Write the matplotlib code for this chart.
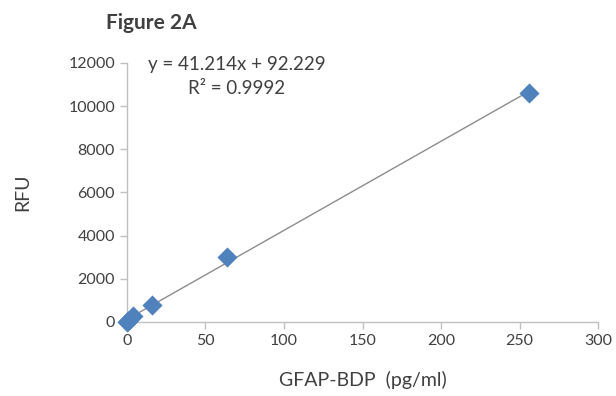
import matplotlib.pyplot as plt
import numpy as np

plt.rcParams['font.family'] = ['Lato', 'DejaVu Sans']

# Standard curve data
conc = [0, 1, 4, 16, 64, 256]
rfu = [20, 60, 260, 800, 3010, 10620]
eq_text = "y = 41.214x + 92.229"
r2_text = "R² = 0.9992"

fig = plt.figure(figsize=(6.16, 3.96), dpi=100)
ax = fig.add_axes([0.206, 0.187, 0.765, 0.654])

slope, intercept = np.polyfit(conc, rfu, 1)
xs = np.array([min(conc), max(conc)])
ax.plot(xs, slope * xs + intercept, color='#8c8c8c', linewidth=1.0, zorder=2)
ax.scatter(conc, rfu, marker='D', s=105, color='#4f81bd', zorder=3, linewidths=0, clip_on=False)

ax.set_xlim(0, 300)
ax.set_ylim(0, 12000)
ax.set_xticks(np.arange(0, 301, 50))
ax.set_yticks(np.arange(0, 12001, 2000))

for s in ['top', 'right']:
    ax.spines[s].set_visible(False)
for s in ['left', 'bottom']:
    ax.spines[s].set_color('#bfbfbf')
    ax.spines[s].set_linewidth(1.0)
ax.tick_params(colors='#bfbfbf', labelcolor='#404040', labelsize=11.5, length=5, width=1.0)
ax.set_xlabel("GFAP-BDP  (pg/ml)", fontsize=14, color='#404040', labelpad=17)
ax.set_ylabel("RFU", fontsize=14, color='#404040', labelpad=27)

fig.text(0.172, 0.943, "Figure 2A", fontsize=15, fontweight='bold', color='#404040', va='center')
fig.text(0.240, 0.838, eq_text, fontsize=13.5, color='#404040', va='center')
fig.text(0.305, 0.776, r2_text, fontsize=13.5, color='#404040', va='center')

plt.savefig('out.png', dpi=100)
plt.close()
